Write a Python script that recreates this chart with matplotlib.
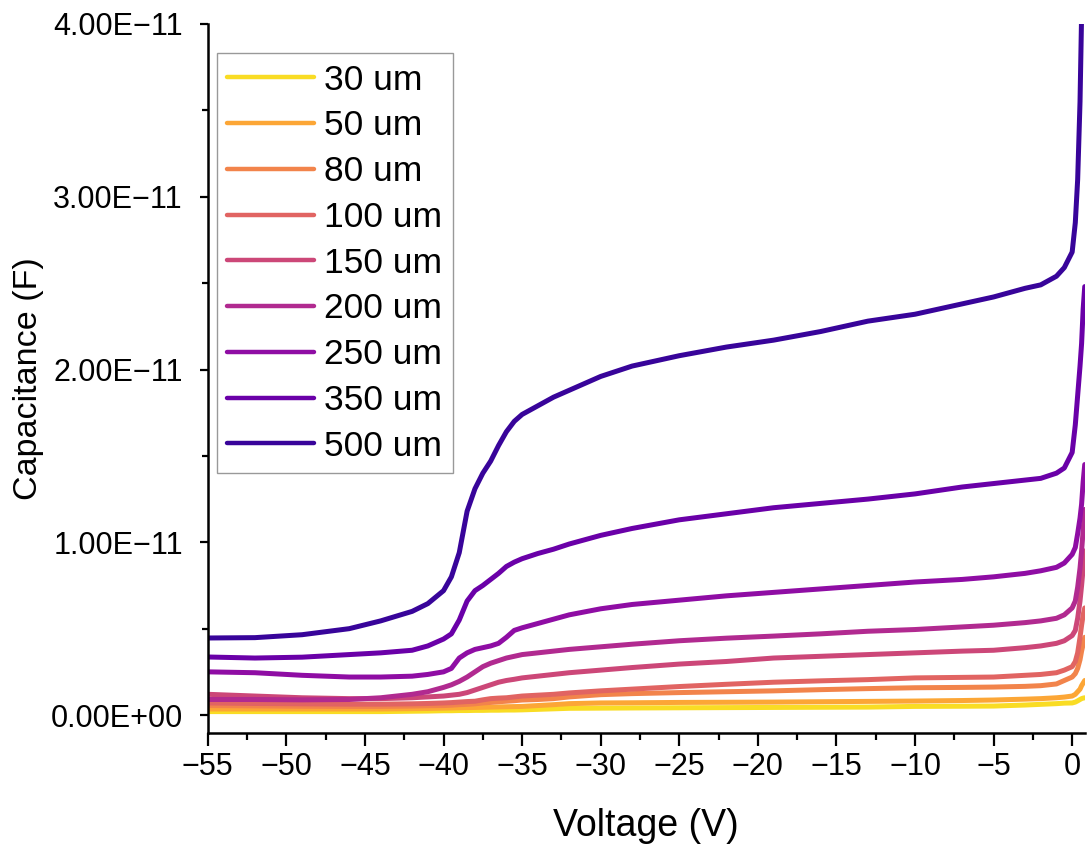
import matplotlib
matplotlib.use("Agg")
import matplotlib.pyplot as plt
from matplotlib.ticker import FixedLocator, FuncFormatter
import numpy as np

plt.rcParams['font.family'] = ['Liberation Sans', 'DejaVu Sans']

# Bias voltage grid (V)
voltage = [-55, -52, -49, -46, -44, -42, -41, -40, -39.5, -39, -38.5, -38, -37.5, -37,
           -36.5, -36, -35.5, -35, -34, -33, -32, -30, -28, -25, -22, -19, -16, -13,
           -10, -7, -5, -3, -2, -1, -0.5, 0, 0.2, 0.35, 0.5, 0.6, 0.7, 0.8]

# Capacitance for each device thickness, in units of 1e-11 F
c_500 = [0.446, 0.448, 0.465, 0.50, 0.545, 0.60, 0.645, 0.72, 0.80, 0.94, 1.18, 1.31, 1.40, 1.47,
         1.56, 1.64, 1.70, 1.74, 1.79, 1.84, 1.88, 1.96, 2.02, 2.08, 2.13, 2.17, 2.22, 2.28,
         2.32, 2.38, 2.42, 2.47, 2.49, 2.54, 2.59, 2.68, 2.85, 3.10, 3.55, 4.05, 4.60, 5.00]
c_350 = [0.336, 0.33, 0.335, 0.35, 0.36, 0.375, 0.40, 0.44, 0.47, 0.55, 0.66, 0.72, 0.75, 0.785,
         0.82, 0.86, 0.885, 0.905, 0.935, 0.96, 0.99, 1.04, 1.08, 1.13, 1.165, 1.20, 1.225, 1.25,
         1.28, 1.32, 1.34, 1.36, 1.37, 1.40, 1.43, 1.52, 1.68, 1.85, 2.02, 2.15, 2.35, 2.48]
c_250 = [0.25, 0.245, 0.23, 0.22, 0.22, 0.225, 0.235, 0.25, 0.27, 0.33, 0.36, 0.38, 0.39, 0.40,
         0.415, 0.45, 0.49, 0.505, 0.53, 0.555, 0.58, 0.615, 0.64, 0.665, 0.69, 0.71, 0.73, 0.75,
         0.77, 0.785, 0.80, 0.82, 0.835, 0.855, 0.88, 0.93, 0.97, 1.05, 1.14, 1.22, 1.35, 1.45]
c_200 = [0.09, 0.09, 0.088, 0.09, 0.10, 0.12, 0.135, 0.16, 0.175, 0.195, 0.22, 0.25, 0.28, 0.30,
         0.315, 0.33, 0.34, 0.35, 0.36, 0.37, 0.38, 0.395, 0.41, 0.43, 0.445, 0.457, 0.47, 0.485,
         0.495, 0.51, 0.52, 0.535, 0.545, 0.56, 0.58, 0.62, 0.66, 0.74, 0.85, 0.95, 1.07, 1.19]
c_150 = [0.12, 0.11, 0.10, 0.095, 0.095, 0.10, 0.105, 0.11, 0.115, 0.12, 0.13, 0.145, 0.16, 0.175,
         0.19, 0.20, 0.207, 0.215, 0.225, 0.235, 0.245, 0.26, 0.275, 0.295, 0.31, 0.33, 0.34, 0.35,
         0.36, 0.37, 0.375, 0.39, 0.40, 0.415, 0.43, 0.46, 0.49, 0.56, 0.66, 0.75, 0.85, 0.95]
c_100 = [0.07, 0.067, 0.065, 0.063, 0.063, 0.065, 0.067, 0.07, 0.072, 0.075, 0.078, 0.08, 0.088, 0.095,
         0.098, 0.10, 0.105, 0.11, 0.115, 0.12, 0.128, 0.14, 0.15, 0.165, 0.178, 0.19, 0.198, 0.205,
         0.215, 0.218, 0.22, 0.23, 0.235, 0.245, 0.26, 0.28, 0.31, 0.36, 0.45, 0.52, 0.58, 0.62]
c_80 = [0.055, 0.053, 0.051, 0.05, 0.05, 0.052, 0.054, 0.055, 0.057, 0.06, 0.062, 0.065, 0.07, 0.073,
        0.077, 0.08, 0.083, 0.087, 0.09, 0.095, 0.105, 0.118, 0.124, 0.13, 0.135, 0.14, 0.147, 0.153,
        0.158, 0.16, 0.162, 0.166, 0.17, 0.18, 0.20, 0.22, 0.24, 0.27, 0.32, 0.37, 0.41, 0.45]
c_50 = [0.035, 0.035, 0.035, 0.035, 0.035, 0.037, 0.038, 0.04, 0.041, 0.042, 0.043, 0.044, 0.045, 0.046,
        0.047, 0.048, 0.049, 0.05, 0.055, 0.06, 0.066, 0.07, 0.071, 0.073, 0.074, 0.075, 0.077, 0.079,
        0.081, 0.084, 0.087, 0.092, 0.095, 0.10, 0.104, 0.11, 0.12, 0.135, 0.15, 0.17, 0.185, 0.20]
c_30 = [0.02, 0.02, 0.02, 0.02, 0.02, 0.022, 0.023, 0.025, 0.025, 0.026, 0.026, 0.027, 0.027, 0.028,
        0.028, 0.029, 0.029, 0.03, 0.033, 0.036, 0.039, 0.04, 0.041, 0.042, 0.043, 0.044, 0.045, 0.046,
        0.05, 0.051, 0.052, 0.058, 0.062, 0.066, 0.069, 0.07, 0.075, 0.082, 0.09, 0.095, 0.098, 0.10]

labels = ["30 um", "50 um", "80 um", "100 um", "150 um", "200 um", "250 um", "350 um", "500 um"]
series = [c_30, c_50, c_80, c_100, c_150, c_200, c_250, c_350, c_500]
cmap_pos = [0.93, 0.80, 0.70, 0.60, 0.50, 0.40, 0.30, 0.20, 0.08]

x_major = [-55, -50, -45, -40, -35, -30, -25, -20, -15, -10, -5, 0]
x_minor = [-52.5, -47.5, -42.5, -37.5, -32.5, -27.5, -22.5, -17.5, -12.5, -7.5, -2.5]
y_major = [0.0, 1e-11, 2e-11, 3e-11, 4e-11]
y_minor = [0.5e-11, 1.5e-11, 2.5e-11, 3.5e-11]

fig = plt.figure(figsize=(10.88, 8.48), dpi=100)
ax = fig.add_axes([0.191, 0.1356, 0.806, 0.8361])

for lab, cvals, pos in zip(labels, series, cmap_pos):
    ax.plot(voltage, np.array(cvals) * 1e-11, color=plt.cm.plasma(pos), lw=3.6,
            label=lab, solid_capstyle='round', solid_joinstyle='round')

ax.set_xlim(-55, 0.8)
ax.set_ylim(-0.104e-11, 4.0e-11)

ax.xaxis.set_major_locator(FixedLocator(x_major))
ax.xaxis.set_minor_locator(FixedLocator(x_minor))
ax.yaxis.set_major_locator(FixedLocator(y_major))
ax.yaxis.set_minor_locator(FixedLocator(y_minor))


def sci_fmt(v, _pos):
    if abs(v) < 1e-20:
        return "0.00E+00"
    return f"{v:.2E}".replace("-", "\u2212")


ax.yaxis.set_major_formatter(FuncFormatter(sci_fmt))

for side in ("top", "right"):
    ax.spines[side].set_visible(False)
for side in ("left", "bottom"):
    ax.spines[side].set_linewidth(1.8)

ax.tick_params(axis='x', which='major', direction='out', length=9.5, width=1.6,
               labelsize=22, pad=4)
ax.tick_params(axis='x', which='minor', direction='out', length=5, width=1.6)
ax.tick_params(axis='y', which='major', direction='out', length=6, width=1.6,
               labelsize=22, pad=12)
ax.tick_params(axis='y', which='minor', direction='out', length=4, width=1.6)

ax.set_xlabel("Voltage (V)", fontsize=27, labelpad=19)
ax.set_ylabel("Capacitance (F)", fontsize=24.5)
ax.yaxis.set_label_coords(-0.187, 0.5)

leg = ax.legend(loc='upper left', bbox_to_anchor=(0.0103, 0.959), borderaxespad=0,
                fontsize=25.5, frameon=True, fancybox=False, handlelength=2.45,
                handletextpad=0.28, labelspacing=0.36, borderpad=0.3)
leg.get_frame().set_edgecolor('#808080')
leg.get_frame().set_linewidth(1.0)
for ln in leg.get_lines():
    ln.set_linewidth(3.2)

fig.savefig("out.png", dpi=100)
